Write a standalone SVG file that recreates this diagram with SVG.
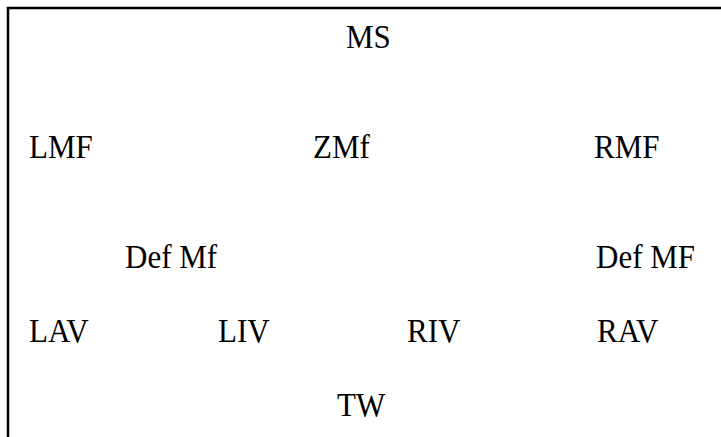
<svg xmlns="http://www.w3.org/2000/svg" width="721" height="437" viewBox="0 0 721 437">
<style>
text{font-family:"Liberation Serif","Times New Roman",Times,serif;font-size:31px;fill:#000}
.b{fill:none;stroke:#000;stroke-width:2.5}
</style>
<rect width="721" height="437" fill="#fff"/>
<path class="b" d="M8,437 V8 H721"/>
<g id="connectors"></g>
<g id="MS"><text transform="translate(346 48) scale(1 1.06)">MS</text></g>
<g id="LMF"><text transform="translate(29 158) scale(1 1.06)">LMF</text></g>
<g id="ZMf"><text transform="translate(313 158) scale(1 1.06)">ZMf</text></g>
<g id="RMF"><text transform="translate(594 158) scale(1 1.06)">RMF</text></g>
<g id="DefMf"><text transform="translate(125 268) scale(1 1.06)">Def Mf</text></g>
<g id="DefMF"><text transform="translate(596 268) scale(1 1.06)">Def MF</text></g>
<g id="LAV"><text transform="translate(29 342) scale(1 1.06)">LAV</text></g>
<g id="LIV"><text transform="translate(218 342) scale(1 1.06)">LIV</text></g>
<g id="RIV"><text transform="translate(407 342) scale(1 1.06)">RIV</text></g>
<g id="RAV"><text transform="translate(597 342) scale(1 1.06)">RAV</text></g>
<g id="TW"><text transform="translate(337 416) scale(1 1.06)">TW</text></g>
</svg>
